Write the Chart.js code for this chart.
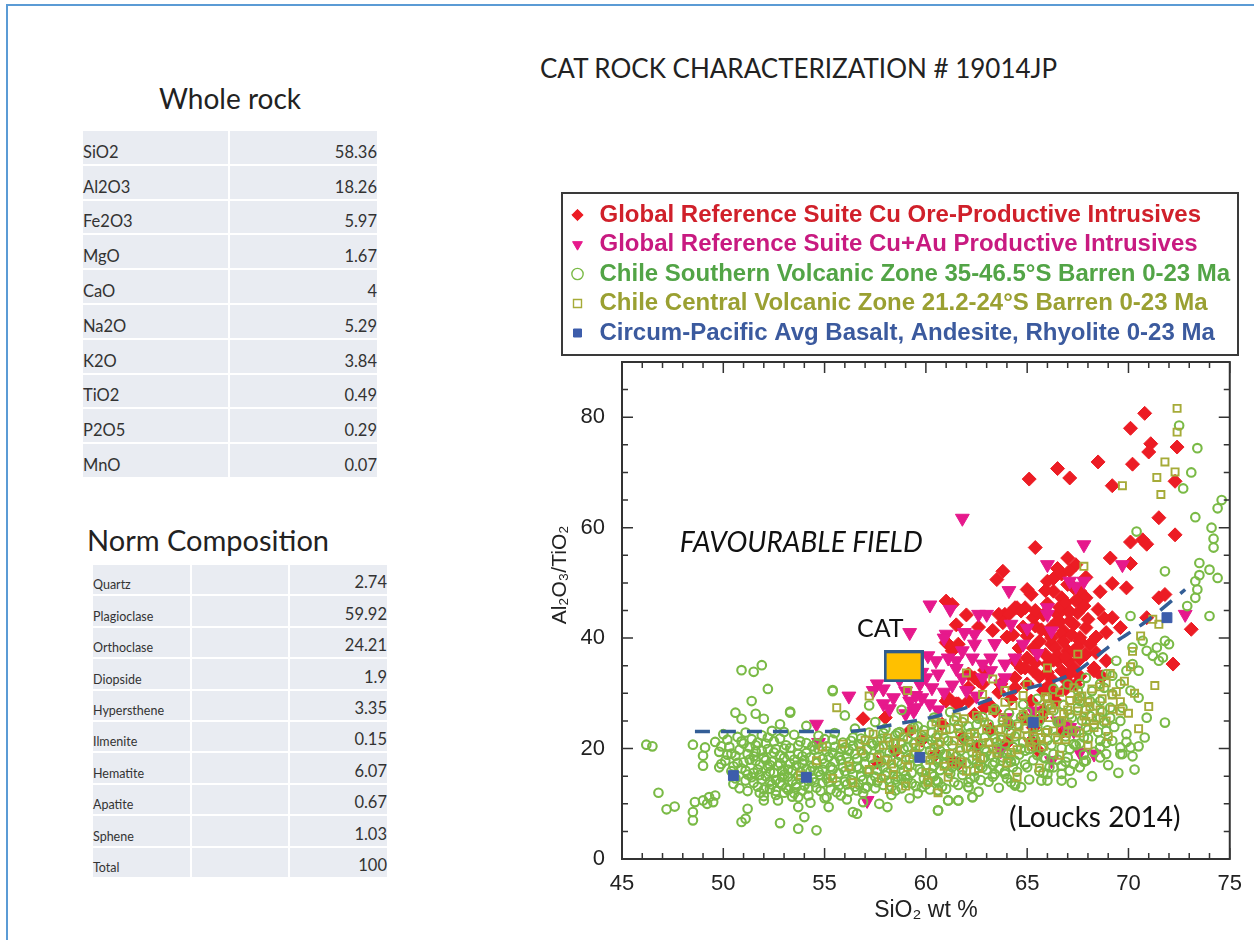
<!DOCTYPE html>
<html>
<head>
<meta charset="utf-8">
<script src="https://cdn.jsdelivr.net/npm/chart.js@4.4.1/dist/chart.umd.min.js"></script>
<style>
    html, body { margin: 0; padding: 0; background: #fff; }
    body { width: 1254px; height: 940px; position: relative; overflow: hidden; font-family: Lato, "Open Sans", sans-serif; color: #222; }
    #edge { position: absolute; left: 6px; top: 4px; width: 1300px; height: 1000px; border-top: 2px solid #5b9bd5; border-left: 2px solid #5b9bd5; }
    .txt { position: absolute; white-space: nowrap; line-height: 30px; }
    #title { left: 540px; top: 53px; font-size: 26px; }
    #h-wr  { left: 83px; top: 83px; width: 294px; text-align: center; font-size: 28px; }
    #h-nc  { left: 87px; top: 525px; font-size: 29px; }
    table { position: absolute; border-collapse: collapse; table-layout: fixed; }
    td { padding: 0; background: #e9ecf2; border-bottom: 2px solid #fff; vertical-align: bottom; color: #333; }
    td + td { border-left: 2px solid #fff; }
    #wr { left: 83px; top: 131px; width: 294px; }
    #wr td { height: 30.8px; font-size: 16.5px; padding-bottom: 2px; }
    #nc { left: 93px; top: 565px; width: 294px; }
    #nc td { height: 27.4px; padding-bottom: 2px; }
    #nc td.lab { font-size: 12.5px; }
    #nc td.val { font-size: 16.5px; }
    .val { text-align: right; }
    #chart { position: absolute; left: 540px; top: 180px; }
</style>
</head>
<body>
<div id="edge"></div>
<div class="txt" id="title">CAT ROCK CHARACTERIZATION # 19014JP</div>
<div class="txt" id="h-wr">Whole rock</div>
<table id="wr"><colgroup><col style="width:146px"><col style="width:148px"></colgroup><tbody></tbody></table>
<div class="txt" id="h-nc">Norm Composition</div>
<table id="nc"><colgroup><col style="width:98px"><col style="width:98px"><col style="width:98px"></colgroup><tbody></tbody></table>
<canvas id="chart" width="714" height="760"></canvas>
<script>
// ---- tables ----
const wholeRockNames  = ['SiO2', 'Al2O3', 'Fe2O3', 'MgO', 'CaO', 'Na2O', 'K2O', 'TiO2', 'P2O5', 'MnO'];
const wholeRockValues = ['58.36', '18.26', '5.97', '1.67', '4', '5.29', '3.84', '0.49', '0.29', '0.07'];
const normNames  = ['Quartz', 'Plagioclase', 'Orthoclase', 'Diopside', 'Hypersthene', 'Ilmenite', 'Hematite', 'Apatite', 'Sphene', 'Total'];
const normValues = ['2.74', '59.92', '24.21', '1.9', '3.35', '0.15', '6.07', '0.67', '1.03', '100'];

// ---- chart data (SiO2 wt %, Al2O3/TiO2) ----
const legendLabels = [
    'Global Reference Suite Cu Ore-Productive Intrusives',
    'Global Reference Suite Cu+Au Productive Intrusives',
    'Chile Southern Volcanic Zone 35-46.5°S Barren 0-23 Ma',
    'Chile Central Volcanic Zone 21.2-24°S Barren 0-23 Ma',
    'Circum-Pacific Avg Basalt, Andesite, Rhyolite 0-23 Ma',
];

const oreProductive = [
    [70.8,80.7],[70.1,78.0],[71.1,75.2],[71.0,73.7],[72.4,74.6],[68.5,71.9],[70.2,71.5],[66.5,70.7],[67.1,69.0],[65.1,68.8],
    [69.2,67.6],[72.3,68.4],[71.5,61.8],[72.3,58.7],[70.1,57.4],[70.7,57.8],[70.9,57.0],[65.4,56.4],[69.1,54.5],[70.1,53.5],
    [69.2,49.9],[69.9,49.1],[63.8,52.1],[63.5,50.6],[65.2,47.9],[66.0,50.3],[71.5,47.3],[71.8,47.9],[61.0,46.7],[61.3,46.1],
    [66.3,48.5],[67.0,49.7],[67.3,49.1],[67.6,48.5],[67.9,47.3],[64.5,45.5],[67.4,53.3],[63.9,44.3],[64.4,45.5],[64.7,44.9],
    [66.7,47.3],[67.0,44.9],[66.5,43.1],[67.3,42.5],[66.8,41.3],[67.6,40.1],[68.1,38.9],[66.2,38.9],[67.0,37.7],[67.9,37.1],
    [66.5,35.9],[67.3,34.6],[68.3,34.1],[61.0,39.2],[61.3,37.7],[65.0,36.4],[65.3,34.1],[64.7,34.6],[64.4,32.8],[65.0,31.7],
    [62.4,32.8],[62.8,31.7],[62.1,31.0],[61.1,29.2],[61.5,28.1],[63.1,28.1],[63.4,26.8],[56.9,25.4],[58.0,25.6],[64.1,24.4],
    [65.7,25.6],[66.8,23.2],[70.9,43.7],[73.1,41.6],[72.2,35.3],[68.9,41.0],[69.2,43.7],[69.6,41.9],[66.5,44.3],[67.1,43.1],
    [66.7,40.7],[67.6,39.5],[67.9,41.9],[67.3,37.7],[67.0,35.9],[66.0,35.3],[66.7,34.1],[68.3,34.6],[63.6,44.3],[64.1,44.3],
    [64.9,45.5],[65.3,43.7],[61.1,38.9],[61.6,38.9],[62.1,33.5],[62.6,32.3],[61.0,28.6],[61.6,28.1],[64.4,35.9],[64.9,34.6],
    [64.4,31.0],[65.2,28.6],[64.9,25.6],[65.2,21.4],[62.9,27.4],[62.1,28.6],[61.3,17.8],[61.6,17.2],[63.7,31.7],[65.3,23.8],
    [68.9,35.9],[66.2,42.0],[66.6,45.6],[66.9,46.4],[67.2,40.6],[66.4,38.2],[66.0,41.2],[65.8,44.2],[66.8,39.4],[67.5,44.6],
    [67.8,45.8],[66.3,50.8],[66.7,51.6],[67.1,52.2],[65.9,48.6],[66.5,36.8],[67.0,33.2],[66.2,32.6],[65.6,39.4],[65.4,42.2],
    [68.5,45.2],[68.4,40.2],[68.0,43.4],[67.6,36.2],[65.0,40.4],[64.6,38.2],[64.0,40.2],[63.3,41.4],[62.6,42.0],[62.0,44.2],
    [61.5,42.4],[59.8,21.5],[60.5,19.0],[61.8,22.0],[62.5,20.4],[63.2,23.5],[58.5,19.5],[57.6,17.5],[64.0,21.0],[65.8,27.0],
    [66.4,28.6],[65.5,19.8],[62.4,26.2],[60.8,24.4],[59.2,23.2],
    [65.8,30.5],[66.1,31.5],[66.4,30.0],[66.9,30.8],[67.4,31.6],[65.6,33.0],[66.0,33.8],[66.9,32.4],[67.6,33.1],[65.4,35.5],
    [65.9,37.0],[66.3,36.0],[66.9,36.6],[67.5,38.4],[65.3,38.2],[65.7,41.5],[66.2,40.0],[66.6,43.0],[67.1,44.8],[67.4,46.8],
    [66.0,46.2],[65.4,45.0],[64.8,42.0],[64.3,40.6],[63.8,42.8],[65.0,48.8],[66.5,52.6],[67.9,51.0],[68.6,48.4],[68.8,43.6],
    [67.0,54.5],[68.4,37.4],[68.7,33.0],[64.2,29.0],[63.6,30.2],[62.9,34.2],
];

const cuAuProductive = [
    [61.8,61.7],[67.8,56.9],[66.0,53.3],[69.7,53.3],[64.1,48.6],[60.2,46.0],[67.8,50.3],[67.1,50.3],[59.2,41.0],[62.6,44.3],
    [62.4,40.7],[61.0,40.7],[60.5,35.9],[61.1,36.4],[61.8,37.7],[62.3,36.4],[62.8,35.3],[63.2,36.4],[63.9,35.3],[64.4,36.4],
    [64.8,38.9],[60.0,32.8],[60.3,31.0],[59.7,31.7],[57.6,31.7],[57.4,30.5],[57.9,28.1],[58.4,29.2],[59.2,28.6],[59.8,29.2],
    [60.2,28.1],[59.4,26.8],[56.2,29.5],[54.6,24.4],[62.8,32.8],[63.2,34.1],[63.7,31.7],[61.8,32.8],[66.0,44.3],[66.2,41.3],
    [67.4,49.4],[66.8,24.4],[67.3,23.2],[65.3,26.8],[64.0,25.6],[54.7,21.1],[57.1,10.6],[57.9,30.8],[59.0,26.3],[59.5,27.4],
    [59.5,29.6],[61.2,45.2],[63.0,44.3],[60.9,40.0],[61.9,41.0],[62.4,38.9],[61.5,35.9],[63.9,32.8],[66.0,45.5],[66.5,25.0],
    [67.1,23.8],[66.2,17.8],[67.6,19.3],[68.3,19.0],[72.8,44.3],[63.7,19.6],[59.8,33.8],[60.6,33.5],[61.3,31.5],[60.9,30.2],
    [61.5,34.5],[60.1,36.8],[58.7,32.5],[59.0,30.4],[58.2,27.2],[60.6,27.0],[62.0,30.5],[62.5,29.5],[65.5,37.2],[65.0,41.8],
    [64.2,42.5],[63.4,39.0],
];

const chileSVZ = [
    // scattered
    [46.2,20.7],[46.5,20.4],[46.8,12.0],[47.2,9.0],[47.6,9.5],[48.5,20.7],[48.5,7.0],[48.5,8.5],[48.6,10.3],[49.0,10.6],
    [49.3,11.2],[49.6,11.5],[49.5,10.3],[49.2,10.0],[49.0,18.7],[49.0,16.9],[49.1,20.2],[49.9,17.2],[49.8,16.6],[50.9,34.2],
    [51.5,33.9],[51.9,35.1],[52.2,30.8],[51.4,28.6],[50.6,26.5],[50.9,25.4],[51.6,26.3],[52.0,25.4],[53.3,26.5],[50.9,6.7],
    [51.1,7.3],[51.2,9.1],[52.8,6.5],[53.7,5.5],[54.6,5.2],[54.0,7.6],[53.7,9.4],[55.4,30.4],[52.8,24.4],[54.1,24.1],
    [56.6,8.2],[56.4,8.5],[56.9,10.3],[57.7,10.0],[58.1,9.4],[55.2,9.4],[55.1,11.2],[53.7,11.2],[52.0,10.6],[56.2,12.2],
    [57.0,12.8],[58.5,12.4],[59.2,11.0],[59.8,13.0],[58.8,14.5],[60.6,8.8],[61.1,10.6],[61.6,10.6],[62.3,11.2],[62.1,13.0],
    [60.6,12.4],[60.5,14.2],[60.3,15.4],[56.0,26.0],[56.5,23.6],[57.5,24.8],[58.6,22.8],[59.6,24.0],[60.4,25.6],[61.2,26.6],
    [61.8,24.8],[62.6,25.4],[63.4,27.2],[64.1,26.4],[64.8,28.0],[65.5,29.0],[66.3,30.8],[67.0,31.6],[67.6,28.6],[68.2,30.4],
    [58.8,27.0],[57.2,27.8],[53.3,26.7],[55.4,30.6],
    [70.1,44.0],[70.7,39.5],[70.2,38.3],[70.9,37.7],[71.4,38.3],[71.8,39.5],[71.2,36.8],[71.7,36.5],[71.5,35.9],[72.0,38.9],
    [70.2,35.3],[70.5,34.1],[69.9,34.1],[69.4,35.9],[68.9,33.5],[69.6,31.7],[70.1,30.5],[68.8,31.0],[69.2,29.9],[68.6,28.6],
    [69.1,27.4],[69.7,27.4],[70.5,29.2],[70.9,25.6],[71.8,24.7],[69.6,25.0],[69.1,25.6],[68.6,25.6],[68.3,24.4],[68.9,23.2],
    [68.6,21.4],[69.2,21.4],[69.9,22.6],[69.6,20.2],[70.1,20.2],[69.7,19.0],[68.9,19.0],[68.6,18.4],[67.6,16.6],[67.9,17.8],
    [67.1,16.0],[66.7,15.4],[66.7,14.2],[66.0,14.2],[65.7,14.2],[66.3,16.6],[66.0,15.4],[64.4,13.6],[64.7,13.0],[64.2,13.9],
    [63.9,15.4],[63.4,15.4],[62.8,16.6],[62.4,14.8],[62.1,13.0],[62.3,11.2],[61.6,10.6],[61.1,10.6],[60.6,8.8],[60.6,12.4],
    [60.5,14.2],[60.3,15.4],[62.9,18.4],[63.7,17.8],[64.4,17.8],[64.9,19.6],[65.8,18.4],[67.0,18.4],[67.3,20.8],[67.8,22.0],
    [67.9,23.8],[68.1,28.6],[68.6,31.7],[67.9,32.8],[67.6,31.7],[67.5,30.5],[69.2,33.2],[74.0,44.0],
    [72.5,78.5],[73.4,74.4],[73.1,70.0],[72.7,67.1],[74.6,65.0],[74.4,63.5],[73.3,61.9],[74.1,60.0],[74.2,58.0],[74.2,56.4],
    [73.5,53.6],[74.0,52.4],[74.4,50.9],[73.5,51.4],[73.3,50.3],[73.4,48.8],[73.3,47.3],[71.8,52.1],[70.4,59.3],[72.9,45.8],
    // dense band
    [49.6,21.2],[49.8,19.4],[50.0,22.6],[50.1,17.8],[50.3,20.3],[50.4,15.9],[50.5,13.6],[50.6,18.7],[50.7,22.1],[50.9,16.4],
    [51.0,20.9],[51.1,14.2],[51.2,12.3],[51.3,18.0],[51.4,21.7],[51.5,15.6],[51.6,19.5],[51.7,13.1],[51.8,17.1],[51.9,22.4],
    [52.0,11.4],[52.1,15.0],[52.2,19.9],[52.3,12.7],[52.4,17.6],[52.5,21.3],[52.6,14.3],[52.7,10.6],[52.8,18.8],[52.9,16.0],
    [53.0,12.0],[53.1,20.6],[53.2,14.9],[53.3,17.3],[53.4,11.3],[53.5,22.5],[53.6,13.6],[53.7,19.0],[53.8,15.8],[53.9,12.4],
    [54.0,17.9],[54.1,21.0],[54.2,14.1],[54.3,10.2],[54.4,16.6],[54.5,19.8],[52.4,23.2],[53.0,23.0],[52.2,16.8],[53.6,16.9],
    [52.9,13.4],[54.6,12.9],[54.7,22.3],[54.8,15.2],[54.9,18.1],[55.0,11.0],[55.1,20.4],[55.2,13.9],[55.3,16.7],[55.4,19.2],
    [55.5,22.8],[55.6,12.1],[55.7,15.5],[55.8,17.9],[55.9,21.1],[56.0,14.0],[56.1,10.8],[56.2,19.6],[56.3,16.3],[56.4,22.0],
    [56.5,13.1],[56.6,18.2],[56.7,20.8],[56.8,15.0],[56.9,11.9],[57.0,17.2],[57.1,19.9],[57.2,22.9],[57.3,14.2],[57.4,20.6],
    [57.5,12.8],[57.6,16.1],[57.7,18.9],[57.8,21.8],[57.9,13.4],[58.0,23.6],[58.1,15.7],[58.2,19.3],[58.3,11.6],[58.4,21.0],
    [58.5,14.4],[58.6,17.6],[58.7,23.0],[58.8,12.8],[58.9,19.9],[59.0,15.1],[59.1,21.7],[59.2,17.0],[59.3,13.7],[59.4,23.8],
    [59.5,19.1],[59.6,11.9],[59.7,16.3],[59.8,22.3],[59.9,14.6],[60.0,18.4],[60.1,20.8],[60.2,12.6],[60.3,24.4],[60.4,16.9],
    [60.5,22.0],[60.6,14.0],[60.7,19.6],[60.8,23.3],[60.9,17.2],[61.0,12.7],[61.1,21.4],[61.2,15.5],[61.4,25.1],[61.5,18.6],
    [61.6,13.4],[61.7,22.7],[61.8,16.2],[62.0,20.1],[62.1,24.0],[62.2,14.6],[62.3,18.0],[62.5,22.1],[62.6,12.2],[62.7,16.9],
    [62.8,25.7],[63.0,19.4],[63.1,14.0],[63.2,23.1],[63.4,17.5],[63.5,21.2],[63.6,12.9],[63.8,25.0],[63.9,15.8],[64.0,19.0],
    [64.2,22.8],[64.3,16.6],[64.4,13.3],[64.5,24.4],[64.7,20.0],[64.9,17.1],[65.0,26.6],[65.1,14.4],[65.3,22.4],[65.5,18.8],
    [65.6,25.0],[65.8,15.6],[66.0,21.5],[66.1,28.0],[66.3,19.0],[66.5,24.8],[66.7,16.9],[66.9,22.2],[67.1,26.2],[67.2,13.8],
    [67.4,20.6],[67.6,29.4],[67.8,17.6],[68.0,23.4],[68.2,15.0],[68.4,27.8],[68.6,20.2],[68.8,24.8],[69.0,17.0],[69.3,23.9],
    [69.6,19.0],[69.9,21.2],[70.2,18.6],[70.5,20.4],[70.8,22.0],[70.3,16.2],[69.5,15.6],
    [49.9,20.4],[50.2,18.9],[50.2,21.6],[50.5,16.8],[50.6,14.6],[50.8,19.8],[50.8,12.8],[51.0,17.5],[51.1,22.9],[51.2,15.3],
    [51.3,20.2],[51.5,13.8],[51.5,18.6],[51.7,16.2],[51.7,21.1],[51.9,14.4],[51.9,19.6],[52.0,12.6],[52.1,17.9],[52.2,22.0],
    [52.3,15.8],[52.4,13.5],[52.5,19.3],[52.6,11.6],[52.7,16.9],[52.8,21.8],[52.9,14.8],[53.0,18.3],[53.1,12.9],[53.2,16.2],
    [53.3,20.1],[53.4,14.1],[53.5,18.0],[53.5,11.9],[53.7,15.1],[53.8,21.3],[53.9,17.3],[54.0,13.3],[54.1,19.2],[54.2,11.5],
    [54.3,15.9],[54.4,20.4],[54.5,13.9],[54.6,17.4],[54.7,19.9],[54.8,12.3],[54.9,16.2],[55.0,21.7],[55.1,14.6],[55.2,18.5],
    [55.3,12.6],[55.4,16.2],[55.5,20.3],[55.6,14.0],[55.7,18.6],[55.8,11.5],[55.9,16.6],[56.0,20.2],[56.1,13.5],[56.2,17.6],
    [56.3,21.4],[56.4,15.3],[56.5,19.0],[56.6,12.4],[56.7,16.4],[56.8,21.8],[56.9,14.3],[57.0,18.6],[57.1,13.1],[57.2,15.8],
    [57.3,20.9],[57.4,17.1],[57.6,13.9],[57.7,20.1],[57.8,17.5],[57.9,22.8],[58.0,15.1],[58.1,18.1],[58.2,21.2],[58.3,13.1],
    [58.4,16.5],[58.5,22.4],[58.6,14.9],[58.7,18.8],[58.8,21.0],[58.9,16.0],[59.0,13.8],[59.1,20.3],[59.2,18.3],[59.3,15.6],
    [59.4,22.6],[59.5,13.2],[59.6,17.7],[59.7,20.4],[59.8,15.8],[59.9,23.3],[60.0,17.0],[60.1,14.3],[60.2,19.6],[60.3,22.9],
    [60.4,15.0],[60.5,18.0],[60.6,20.8],[60.7,16.1],[60.8,13.1],[60.9,21.9],[61.0,18.9],[61.1,15.9],[61.2,23.6],[61.3,20.6],
    [61.4,13.9],[61.5,17.1],[61.6,24.2],[61.7,19.6],[61.8,15.2],[61.9,21.8],[62.0,17.4],[62.1,13.9],[62.2,22.8],[62.3,19.3],
    [62.4,16.0],[62.5,24.3],[62.6,20.6],[62.7,14.3],[62.8,18.1],[62.9,22.0],[63.0,16.2],[63.1,24.4],[63.2,18.8],[63.3,14.9],
    [63.4,21.8],[63.5,19.9],[63.6,16.4],[63.7,23.6],[63.8,18.4],[63.9,20.9],[64.0,14.6],[64.1,24.6],[64.2,17.6],[64.3,20.3],
    [64.4,22.2],[64.5,15.8],[64.6,18.9],[64.7,25.7],[64.8,21.2],[64.9,23.6],[65.0,16.6],[65.1,19.9],[65.2,25.2],[65.3,17.9],
    [65.4,21.6],[65.5,23.9],[65.6,15.9],[65.7,20.0],[65.8,26.4],[65.9,18.2],[66.0,23.3],[66.1,16.6],[66.2,20.6],[66.3,26.9],
    [66.4,22.1],[66.5,18.0],[66.6,24.9],[66.7,20.1],[66.8,27.9],[66.9,17.6],[67.0,22.9],[67.1,19.9],[67.2,25.6],[67.3,17.2],
    [67.4,23.1],[67.5,27.4],[67.6,20.9],[67.7,25.1],[67.8,18.9],[67.9,27.0],[68.0,21.8],[68.1,25.9],[68.3,19.4],[68.5,23.0],
    [68.7,26.6],[68.9,21.0],
    [50.4,19.1],[50.7,17.4],[50.9,21.3],[51.1,16.0],[51.2,19.0],[51.4,14.8],[51.6,17.8],[51.6,20.6],[51.8,15.2],[51.8,12.0],
    [52.0,18.4],[52.1,20.9],[52.3,14.0],[52.3,17.0],[52.5,15.6],[52.6,19.9],[52.6,12.3],[52.8,13.8],[52.8,17.3],[53.0,15.3],
    [53.0,20.0],[53.2,12.5],[53.3,18.7],[53.4,16.0],[53.6,13.0],[53.7,20.6],[53.8,14.5],[53.9,18.6],[54.1,16.3],[54.2,12.8],
    [54.3,18.4],[54.4,14.6],[54.6,20.9],[54.7,15.8],[54.9,13.8],[55.0,17.3],[55.1,19.5],[55.3,15.1],[55.4,21.6],[55.5,17.6],
    [55.7,13.3],[55.8,19.9],[56.0,15.9],[56.1,18.4],[56.3,14.3],[56.4,20.5],[56.6,16.7],[56.7,13.5],[56.9,19.1],[57.1,15.9],
    [57.3,18.3],[57.5,14.9],[57.6,21.3],[57.9,16.6],[58.2,14.0],[58.4,19.7],[58.8,17.1],[59.1,14.5],[59.4,20.9],[59.7,18.6],
    [60.0,13.5],[60.3,21.4],[60.6,17.5],[60.9,19.0],[61.3,16.6],[61.7,18.0],[62.1,21.2],[62.5,17.3],[62.9,19.9],[63.3,17.0],
    [63.7,21.6],[64.1,18.3],
];

const chileCVZ = [
    [57.2,16.2],[57.6,18.4],[57.9,20.6],[58.3,17.2],[58.6,19.8],[58.9,22.1],[58.4,15.3],[59.1,16.6],[59.4,18.9],[59.7,21.3],
    [59.3,23.4],[58.1,21.9],[57.4,22.6],[57.8,14.6],[60.0,15.6],[60.2,17.9],[60.4,20.2],[60.6,22.5],[60.8,24.6],[60.9,16.8],
    [61.2,19.1],[61.4,21.4],[61.6,23.6],[61.9,25.4],[61.8,17.6],[62.0,15.9],[62.2,20.3],[62.4,22.7],[60.1,13.9],[61.1,14.8],
    [62.7,18.3],[62.9,24.8],[63.1,21.1],[63.3,26.9],[63.5,19.2],[63.6,23.4],[63.8,25.6],[64.0,17.4],[64.1,21.9],[64.3,27.8],
    [64.5,19.8],[64.6,24.1],[64.8,26.2],[65.0,22.3],[65.2,20.4],[62.6,16.4],[65.4,24.7],[65.6,27.3],[65.7,22.0],[65.9,29.4],
    [66.1,25.6],[66.3,23.2],[66.4,27.9],[66.6,30.2],[66.8,26.3],[67.0,24.4],[67.1,28.7],[67.3,31.0],[67.5,26.8],[67.7,29.5],
    [67.9,24.9],[68.1,27.6],[68.2,30.8],[65.8,20.4],[66.9,21.6],[67.6,22.8],[68.4,25.5],[68.7,29.0],[68.9,31.9],[69.2,27.1],
    [69.4,30.3],[69.6,28.5],[69.8,32.2],[70.0,26.4],[70.3,30.0],[68.6,31.2],[69.1,33.6],[70.1,34.8],[55.6,27.4],[57.2,29.5],
    [59.1,30.5],[62.0,33.7],[63.3,32.6],[67.5,37.1],[67.8,53.0],[66.0,34.6],[71.2,43.4],[71.5,42.5],[72.4,81.6],[72.4,77.3],
    [71.8,71.9],[71.4,69.1],[72.3,70.1],[71.6,66.0],[69.7,67.6],[70.6,40.4],[70.2,37.6],[53.8,15.2],[54.6,17.8],[55.4,14.6],
    [56.2,16.8],[56.8,19.6],[55.9,20.8],[54.9,20.3],[56.4,13.8],[57.0,21.5],[62.8,29.8],[63.9,30.5],[65.0,31.6],[64.5,14.8],
    [65.6,16.5],[66.6,18.8],[68.0,20.6],[69.0,22.2],[70.5,23.6],[71.0,27.6],[71.3,31.4],[60.6,12.0],[59.0,13.2],[58.2,12.6],
    [58.0,17.9],[58.5,21.0],[59.0,18.0],[59.5,20.2],[59.9,22.6],[60.3,18.9],[60.7,21.2],[61.0,23.4],[61.3,17.3],[61.7,20.1],
    [62.1,22.1],[62.5,18.7],[62.8,21.0],[63.0,23.6],[63.3,19.9],[63.7,22.1],[64.0,24.9],[64.2,19.3],[64.5,22.6],[64.9,25.1],
    [65.1,21.1],[65.3,23.4],[65.6,26.0],[65.9,22.9],[66.2,27.3],[66.5,21.6],[66.7,25.0],[67.0,27.0],[67.2,23.3],[67.5,29.0],
    [67.8,25.9],[68.0,28.4],[68.3,23.8],[68.6,27.0],[68.9,25.0],[69.2,29.7],[69.6,26.8],[63.9,28.4],[62.5,26.0],[61.5,25.7],
    [60.5,24.8],[64.8,29.6],[66.0,29.0],
];

const circumPacific = [[50.5,15.1],[54.1,14.8],[59.7,18.4],[65.3,24.7],[71.9,43.7]];

const trendLine = [[48.6,23.1],[56.0,23.1],[58.5,24.4],[61.0,26.3],[64.0,29.9],[67.3,33.7],[69.2,38.9],[70.9,43.1],[72.8,48.8]];

const catSample = [[58.9,34.9]];

const notes = [
    { text: 'FAVOURABLE FIELD', x: 47.85, y: 57.3, font: 'italic 28px Lato, sans-serif' },
    { text: 'CAT',              x: 56.6,  y: 41.6, font: '25px Lato, sans-serif' },
    { text: '(Loucks 2014)',    x: 64.1,  y: 7.4,  font: '28px Lato, sans-serif' },
];

// ---- tables ----
function fillTable(id, names, values, blanks) {
    const tb = document.querySelector('#' + id + ' tbody');
    names.forEach((n, i) => {
        const tr = document.createElement('tr');
        let html = `<td class="lab">${n}</td>`;
        for (let k = 0; k < blanks; k++) html += '<td></td>';
        html += `<td class="val">${values[i]}</td>`;
        tr.innerHTML = html;
        tb.appendChild(tr);
    });
}
fillTable('wr', wholeRockNames, wholeRockValues, 0);
fillTable('nc', normNames, normValues, 1);

// ---- chart ----
const sans = '"Liberation Sans", Arial, Helvetica, sans-serif';
const pts  = arr => arr.map(([x, y]) => ({ x, y }));

const catIcon = document.createElement('canvas');
catIcon.width = 40; catIcon.height = 32;
{
    const g = catIcon.getContext('2d');
    g.fillStyle = '#ffc000';
    g.fillRect(2, 2, 36, 28);
    g.strokeStyle = '#2f5c8c';
    g.lineWidth = 3;
    g.strokeRect(1.5, 1.5, 37, 29);
}

const plotDecor = {
    id: 'plotDecor',
    afterDatasetsDraw(chart) {
        const { ctx, chartArea: a, scales: { x, y } } = chart;
        ctx.save();
        // inward ticks on all four sides
        ctx.strokeStyle = '#333';
        ctx.lineWidth = 1.5;
        ctx.beginPath();
        for (let v = 45; v <= 75; v++) {
            const px = x.getPixelForValue(v), len = v % 5 ? 6 : 11;
            ctx.moveTo(px, a.bottom); ctx.lineTo(px, a.bottom - len);
            ctx.moveTo(px, a.top);    ctx.lineTo(px, a.top + len);
        }
        for (let v = 0; v <= 90; v += 5) {
            const py = y.getPixelForValue(v), len = v % 20 ? 6 : 11;
            ctx.moveTo(a.left, py);  ctx.lineTo(a.left + len, py);
            ctx.moveTo(a.right, py); ctx.lineTo(a.right - len, py);
        }
        ctx.stroke();
        ctx.lineWidth = 2;
        ctx.strokeRect(a.left, a.top, a.width, a.height);

        ctx.fillStyle = '#111';
        ctx.textBaseline = 'middle';
        ctx.textAlign = 'left';
        for (const n of notes) {
            ctx.font = n.font;
            ctx.fillText(n.text, x.getPixelForValue(n.x), y.getPixelForValue(n.y));
        }
        ctx.restore();
    },
    afterDraw(chart) {
        const { ctx, legend: L } = chart;
        ctx.save();
        ctx.strokeStyle = '#3a3a3a';
        ctx.lineWidth = 2;
        ctx.strokeRect(L.left, L.top - 4.5, L.width, L.height + 4.5);
        // y axis title
        ctx.translate(20, 395);
        ctx.rotate(-Math.PI / 2);
        ctx.font = '21px ' + sans;
        ctx.fillStyle = '#222';
        ctx.textAlign = 'center';
        ctx.textBaseline = 'middle';
        ctx.fillText('Al₂O₃/TiO₂', 0, 0);
        ctx.restore();
    },
};

new Chart(document.getElementById('chart'), {
    type: 'scatter',
    data: {
        datasets: [
            { label: 'CAT', data: pts(catSample), pointStyle: catIcon, pointRadius: 10, pointHoverRadius: 10 },
            { label: 'trend', data: pts(trendLine), showLine: true, borderColor: '#335e96', borderWidth: 3.5,
              borderDash: [15, 11], pointRadius: 0, cubicInterpolationMode: 'monotone', fill: false },
            { label: legendLabels[4], data: pts(circumPacific), pointStyle: 'rect', pointRadius: 7,
              backgroundColor: '#3d5dab', borderColor: '#3d5dab', borderWidth: 1,
              legendRank: 4, legendColor: '#3b5a9e', legendFill: '#3d5dab', legendLine: 1 },
            { label: legendLabels[3], data: pts(chileCVZ), pointStyle: 'rect', pointRadius: 5,
              backgroundColor: 'rgba(0,0,0,0)', borderColor: '#a6ab38', borderWidth: 1.9,
              legendRank: 3, legendColor: '#9aa032', legendFill: 'rgba(0,0,0,0)', legendLine: 1.4 },
            { label: legendLabels[2], data: pts(chileSVZ), pointStyle: 'circle', pointRadius: 4.3,
              backgroundColor: 'rgba(0,0,0,0)', borderColor: '#7aba46', borderWidth: 2.1,
              legendRank: 2, legendColor: '#52a446', legendFill: 'rgba(0,0,0,0)', legendLine: 1.4 },
            { label: legendLabels[1], data: pts(cuAuProductive), pointStyle: 'triangle', rotation: 180, pointRadius: 8,
              backgroundColor: '#e6198c', borderColor: '#e6198c', borderWidth: 1,
              legendRank: 1, legendColor: '#c81a80', legendFill: '#e6198c', legendLine: 1 },
            { label: legendLabels[0], data: pts(oreProductive), pointStyle: 'rectRot', pointRadius: 7,
              backgroundColor: '#ec1c24', borderColor: '#ec1c24', borderWidth: 1,
              legendRank: 0, legendColor: '#d0202a', legendFill: '#ec1c24', legendLine: 1 },
        ],
    },
    options: {
        responsive: false,
        animation: false,
        events: [],
        layout: { padding: { left: 22, right: 16, top: 17.5, bottom: 0 } },
        plugins: {
            tooltip: { enabled: false },
            legend: {
                position: 'top',
                align: 'start',
                labels: {
                    usePointStyle: true,
                    boxWidth: 20,
                    boxHeight: 8,
                    padding: 5.5,
                    font: { family: sans, size: 24, weight: 'bold' },
                    generateLabels: chart => chart.data.datasets
                        .map((d, i) => ({ d, i }))
                        .filter(o => o.d.legendColor)
                        .sort((a, b) => a.d.legendRank - b.d.legendRank)
                        .map(({ d, i }) => ({
                            text: d.label, fontColor: d.legendColor,
                            fillStyle: d.legendFill, strokeStyle: d.borderColor, lineWidth: d.legendLine,
                            pointStyle: d.pointStyle, rotation: d.rotation || 0,
                            datasetIndex: i, hidden: false,
                        })),
                },
            },
        },
        scales: {
            x: {
                type: 'linear', position: 'bottom', min: 45, max: 75,
                ticks: { stepSize: 5, padding: 12, color: '#222', font: { family: sans, size: 22 } },
                grid: { display: false, drawTicks: false },
                border: { display: false },
                title: { display: true, text: 'SiO₂ wt %', color: '#222', font: { family: sans, size: 23 },
                         padding: { top: 0, bottom: 16 } },
                afterFit: s => { s.height = 81; },
            },
            xTop: {
                type: 'linear', position: 'top', min: 45, max: 75,
                ticks: { display: false },
                grid: { display: false, drawTicks: false },
                border: { display: false },
                afterFit: s => { s.height = 7; },
            },
            y: {
                type: 'linear', position: 'left', min: 0, max: 90,
                ticks: { stepSize: 20, padding: 17, color: '#222', font: { family: sans, size: 22 } },
                afterBuildTicks: s => { s.ticks = s.ticks.filter(t => t.value % 20 === 0); },
                grid: { display: false, drawTicks: false },
                border: { display: false },
                afterFit: s => { s.width = 60; },
            },
        },
    },
    plugins: [plotDecor],
});
</script>
</body>
</html>
